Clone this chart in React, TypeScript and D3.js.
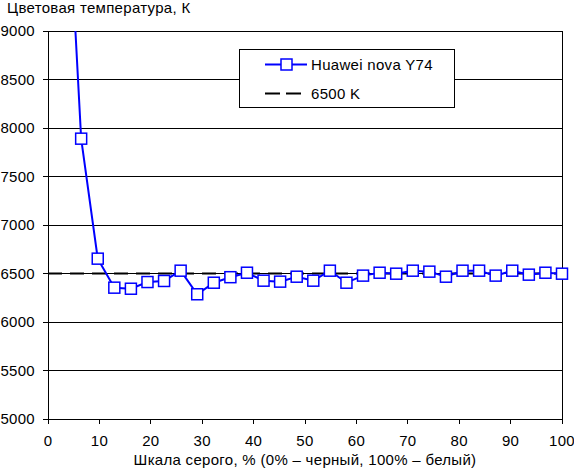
import React from "react";
import * as d3 from "d3";

// gray level steps: i * 100 / 31
const steps = d3.range(1, 32);
const colorTemp = [
  11100, 7890, 6653, 6354, 6343, 6412, 6423, 6529, 6286, 6405, 6462, 6508,
  6426, 6416, 6467, 6426, 6529, 6405, 6478, 6508, 6498, 6529, 6519, 6467,
  6529, 6529, 6478, 6529, 6488, 6508, 6498,
];
const xTicks = [0, 10, 20, 30, 40, 50, 60, 70, 80, 90, 100];
const yTicks = [5000, 5500, 6000, 6500, 7000, 7500, 8000, 8500, 9000];
const target = 6500;

const width = 574;
const height = 469;
const margin = { top: 31, right: 12, bottom: 50, left: 48 };
const font = "'Liberation Sans', Arial, sans-serif";

const App = () => {
  const x = d3.scaleLinear([0, 100], [margin.left, width - margin.right]);
  const y = d3.scaleLinear([5000, 9000], [height - margin.bottom, margin.top]);
  const pts = steps.map((s, i) => ({ gx: (s * 100) / 31, v: colorTemp[i] }));
  const line = d3
    .line<{ gx: number; v: number }>()
    .x((d) => x(d.gx))
    .y((d) => y(d.v));
  const [x0, x1] = x.range();
  const [yb, yt] = y.range();

  return (
    <svg
      width={width}
      height={height}
      style={{ position: "absolute", left: 0, top: 0, background: "#fff" }}
      fontFamily={font}
      letterSpacing={0.3}
    >
      <defs>
        <clipPath id="plot">
          <rect x={x0} y={yt} width={x1 - x0} height={yb - yt} />
        </clipPath>
      </defs>
      {/* grid */}
      <g stroke="#000" strokeWidth={1} shapeRendering="crispEdges">
        {yTicks.map((t) => (
          <line key={t} x1={x0 - 5} x2={x1} y1={y(t)} y2={y(t)} />
        ))}
        {xTicks.map((t) => (
          <line key={t} x1={x(t)} x2={x(t)} y1={yb} y2={yb + 5} />
        ))}
        <line x1={x0} x2={x0} y1={yt} y2={yb} />
        <line x1={x1} x2={x1} y1={yt} y2={yb} />
      </g>
      {/* tick labels */}
      <g fontSize={15} fill="#000">
        {yTicks.map((t) => (
          <text key={t} x={x0 - 13} y={y(t)} dy="0.36em" textAnchor="end">
            {t}
          </text>
        ))}
        {xTicks.map((t) => (
          <text key={t} x={x(t)} y={yb + 27} textAnchor="middle">
            {t}
          </text>
        ))}
      </g>
      <text x={7} y={13} fontSize={15}>
        Цветовая температура, К
      </text>
      <text x={(x0 + x1) / 2} y={465} fontSize={15} textAnchor="middle">
        Шкала серого, % (0% – черный, 100% – белый)
      </text>
      {/* target line */}
      <line
        x1={x0}
        x2={x1}
        y1={y(target)}
        y2={y(target)}
        stroke="#000"
        strokeWidth={2}
        strokeDasharray="14,8"
      />
      {/* measured series */}
      <g clipPath="url(#plot)">
        <path d={line(pts) ?? ""} fill="none" stroke="#0000ff" strokeWidth={2} />
      </g>
      <g fill="#fff" stroke="#0000ff" strokeWidth={1.5}>
        {pts
          .filter((d) => d.v <= 9000)
          .map((d, i) => (
            <rect key={i} x={x(d.gx) - 5.5} y={y(d.v) - 5.5} width={11} height={11} />
          ))}
      </g>
      {/* legend */}
      <g>
        <rect x={239.5} y={49.5} width={215} height={58} fill="#fff" stroke="#000" strokeWidth={1} />
        <line x1={265} x2={307} y1={64.5} y2={64.5} stroke="#0000ff" strokeWidth={2} />
        <rect x={281} y={59} width={11} height={11} fill="#fff" stroke="#0000ff" strokeWidth={1.5} />
        <text x={311} y={64.5} dy="0.36em" fontSize={15}>
          Huawei nova Y74
        </text>
        <line x1={265} x2={301} y1={93.5} y2={93.5} stroke="#000" strokeWidth={2} strokeDasharray="15,6" />
        <text x={311} y={93.5} dy="0.36em" fontSize={15}>
          6500 K
        </text>
      </g>
    </svg>
  );
};

export default App;
